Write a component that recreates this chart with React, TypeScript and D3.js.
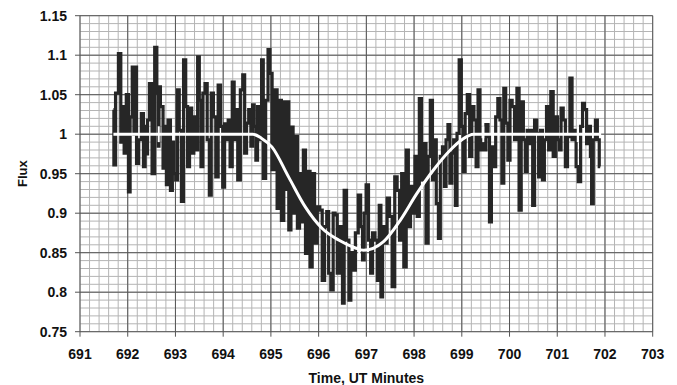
import React from "react";
import * as d3 from "d3";

const obsTime = [
  691.70, 691.72, 691.77, 691.84, 691.87, 691.91, 691.94, 692.00, 692.03, 692.07,
  692.12, 692.14, 692.17, 692.20, 692.26, 692.31, 692.35, 692.38, 692.40, 692.43,
  692.48, 692.54, 692.59, 692.63, 692.65, 692.66, 692.71, 692.77, 692.80, 692.82,
  692.87, 692.92, 692.95, 692.98, 693.03, 693.06, 693.10, 693.15, 693.19, 693.24,
  693.27, 693.32, 693.36, 693.41, 693.45, 693.48, 693.52, 693.55, 693.60, 693.64,
  693.69, 693.73, 693.77, 693.82, 693.87, 693.92, 693.97, 694.01, 694.05, 694.09,
  694.12, 694.17, 694.21, 694.25, 694.28, 694.33, 694.39, 694.43, 694.47, 694.51,
  694.56, 694.60, 694.63, 694.67, 694.70, 694.74, 694.79, 694.82, 694.86, 694.92,
  694.96, 695.00, 695.05, 695.10, 695.16, 695.20, 695.24, 695.30, 695.32, 695.35,
  695.40, 695.44, 695.49, 695.53, 695.58, 695.62, 695.66, 695.70, 695.75, 695.80,
  695.84, 695.89, 695.94, 696.00, 696.05, 696.10, 696.15, 696.19, 696.23, 696.28,
  696.33, 696.36, 696.42, 696.49, 696.51, 696.56, 696.61, 696.66, 696.69, 696.74,
  696.80, 696.86, 696.90, 696.94, 696.97, 697.02, 697.07, 697.11, 697.15, 697.21,
  697.25, 697.29, 697.32, 697.36, 697.41, 697.46, 697.51, 697.57, 697.62, 697.67,
  697.72, 697.76, 697.81, 697.86, 697.90, 697.95, 698.00, 698.04, 698.09, 698.13,
  698.18, 698.23, 698.27, 698.32, 698.36, 698.41, 698.44, 698.49, 698.53, 698.57,
  698.62, 698.65, 698.69, 698.73, 698.77, 698.81, 698.85, 698.88, 698.92, 698.97,
  699.01, 699.05, 699.09, 699.14, 699.19, 699.23, 699.28, 699.32, 699.36, 699.40,
  699.44, 699.48, 699.53, 699.57, 699.59, 699.65, 699.69, 699.73, 699.78, 699.82,
  699.86, 699.90, 699.94, 699.99, 700.03, 700.08, 700.13, 700.18, 700.22, 700.27,
  700.31, 700.35, 700.39, 700.43, 700.47, 700.50, 700.55, 700.59, 700.63, 700.67,
  700.71, 700.75, 700.80, 700.84, 700.89, 700.94, 700.98, 701.03, 701.06, 701.10,
  701.15, 701.19, 701.24, 701.29, 701.33, 701.38, 701.41, 701.47, 701.51, 701.55,
  701.59, 701.64, 701.68, 701.71, 701.73, 701.78, 701.82, 701.86, 701.90,
];
const obsFlux = [
  1.031, 0.961, 1.052, 1.102, 0.990, 1.035, 0.976, 1.050, 0.927, 1.022,
  1.085, 1.000, 1.085, 0.963, 0.993, 1.026, 0.959, 1.010, 0.975, 1.018,
  1.064, 0.950, 1.110, 1.052, 0.985, 1.060, 1.035, 0.957, 1.010, 0.936,
  1.018, 0.929, 0.990, 0.950, 0.942, 1.056, 1.005, 0.915, 1.094, 1.035,
  0.959, 1.033, 0.976, 1.022, 0.980, 1.098, 1.043, 0.959, 1.052, 1.064,
  0.993, 0.923, 1.052, 1.022, 0.946, 1.062, 1.010, 0.933, 1.013, 0.993,
  1.018, 0.959, 1.066, 0.993, 1.031, 0.942, 1.056, 1.075, 0.976, 1.014,
  1.031, 0.985, 1.037, 1.010, 0.967, 1.035, 0.993, 1.094, 0.944, 1.043,
  1.107, 1.077, 0.955, 1.056, 0.906, 1.043, 0.891, 1.041, 0.930, 1.041,
  0.879, 1.009, 0.900, 0.997, 0.881, 0.950, 0.889, 0.980, 0.849, 0.953,
  0.832, 0.950, 0.862, 0.908, 0.904, 0.815, 0.883, 0.902, 0.824, 0.803,
  0.900, 0.898, 0.824, 0.883, 0.786, 0.929, 0.866, 0.790, 0.850, 0.828,
  0.875, 0.923, 0.883, 0.841, 0.900, 0.936, 0.866, 0.824, 0.875, 0.866,
  0.815, 0.910, 0.794, 0.883, 0.862, 0.919, 0.896, 0.807, 0.946, 0.929,
  0.866, 0.950, 0.832, 0.980, 0.883, 0.934, 0.900, 0.972, 0.896, 1.045,
  0.942, 0.988, 0.862, 0.972, 1.043, 0.942, 0.993, 0.912, 0.868, 0.972,
  0.984, 0.934, 0.993, 1.012, 0.938, 0.976, 0.993, 0.910, 1.001, 1.094,
  1.010, 0.953, 1.026, 1.050, 0.972, 1.035, 1.018, 0.959, 1.056, 0.980,
  0.993, 0.980, 1.012, 0.997, 0.889, 0.984, 0.959, 1.022, 1.045, 1.018,
  0.938, 1.058, 1.014, 0.967, 1.043, 1.035, 0.993, 1.058, 0.904, 1.041,
  0.993, 0.953, 1.005, 0.988, 1.005, 0.910, 1.018, 1.001, 0.946, 1.005,
  0.942, 0.993, 1.035, 0.980, 1.054, 0.972, 1.022, 0.993, 0.980, 1.033,
  1.018, 0.959, 0.997, 1.071, 0.993, 1.005, 0.959, 0.940, 1.010, 1.039,
  1.031, 0.988, 1.010, 0.972, 0.912, 0.993, 1.018, 0.993, 0.959,
];

// transit model (white curve)
const modelTime = [691.70, 694.62, 694.80, 695.02, 695.37, 695.72, 696.07, 696.42, 696.77, 696.94,
  697.36, 697.71, 698.06, 698.41, 698.76, 699.00, 699.25, 701.92];
const modelFlux = [1.0, 1.0, 0.995, 0.984, 0.946, 0.908, 0.881, 0.866, 0.856, 0.853,
  0.864, 0.891, 0.925, 0.955, 0.980, 0.993, 1.0, 1.0];

// small white markers on the model line
const markTime = [692.65, 696.85, 699.45, 701.43];

const xTicks = [691, 692, 693, 694, 695, 696, 697, 698, 699, 700, 701, 702, 703];
const yTicks = [0.75, 0.8, 0.85, 0.9, 0.95, 1, 1.05, 1.1, 1.15];

const W = 677;
const H = 385;
const left = 80;
const right = 652.7;
const top = 15.7;
const bottom = 331.7;
const font = "'Liberation Sans', Arial, sans-serif";

export default function App() {
  const x = d3.scaleLinear().domain([691, 703]).range([left, right]);
  const y = d3.scaleLinear().domain([0.75, 1.15]).range([bottom, top]);

  const minorX = d3.range(691, 703.001, 0.2);
  const minorY = d3.range(0.75, 1.1501, 0.01);

  // dense sampling in the source shows as vertical spikes, so draw as steps
  const obsLine = d3
    .line<number>()
    .x((d, i) => x(obsTime[i]))
    .y((d) => y(d))
    .curve(d3.curveStep);
  const modelLine = d3
    .line<number>()
    .x((d, i) => x(modelTime[i]))
    .y((d) => y(d))
    .curve(d3.curveMonotoneX);

  const modelAt = (t: number) => {
    const i = d3.bisector((d: number) => d).left(modelTime, t);
    const t0 = modelTime[i - 1], t1 = modelTime[i];
    return modelFlux[i - 1] + ((t - t0) / (t1 - t0)) * (modelFlux[i] - modelFlux[i - 1]);
  };

  return (
    <svg width={W} height={H} style={{ position: "absolute", left: 0, top: 0, background: "#fff" }}>
      {/* minor grid */}
      <g stroke="#b4b4b4" strokeWidth={1}>
        {minorX.map((v, i) => (
          <line key={"mx" + i} x1={x(v)} x2={x(v)} y1={top} y2={bottom} />
        ))}
        {minorY.map((v, i) => (
          <line key={"my" + i} x1={left} x2={right} y1={y(v)} y2={y(v)} />
        ))}
      </g>
      {/* major grid */}
      <g stroke="#555" strokeWidth={1}>
        {xTicks.map((v) => (
          <line key={"gx" + v} x1={x(v)} x2={x(v)} y1={top} y2={bottom + 5} />
        ))}
        {yTicks.map((v) => (
          <line key={"gy" + v} x1={left - 5} x2={right} y1={y(v)} y2={y(v)} />
        ))}
      </g>

      <path d={obsLine(obsFlux) || ""} fill="none" stroke="#262626" strokeWidth={3.2} />
      <path d={modelLine(modelFlux) || ""} fill="none" stroke="#fff" strokeWidth={3} />
      <g stroke="#fff" strokeWidth={2}>
        {markTime.map((t) => {
          const v = modelAt(t);
          return <line key={"m" + t} x1={x(t)} x2={x(t)} y1={y(v + 0.01)} y2={y(v - 0.01)} />;
        })}
      </g>

      {/* tick labels */}
      <g fontFamily={font} fontWeight="bold" fontSize={14} fill="#111">
        {yTicks.map((v) => (
          <text key={"ty" + v} x={67} y={y(v)} dy="0.35em" textAnchor="end">
            {String(+v.toFixed(2))}
          </text>
        ))}
        {xTicks.map((v) => (
          <text key={"tx" + v} x={x(v)} y={359} textAnchor="middle">
            {v}
          </text>
        ))}
        <text x={(left + right) / 2} y={383} textAnchor="middle" fontSize={14}>
          Time, UT Minutes
        </text>
        <text transform={`translate(27,${y(0.95)}) rotate(-90)`} textAnchor="middle" fontSize={13}>
          Flux
        </text>
      </g>
    </svg>
  );
}
